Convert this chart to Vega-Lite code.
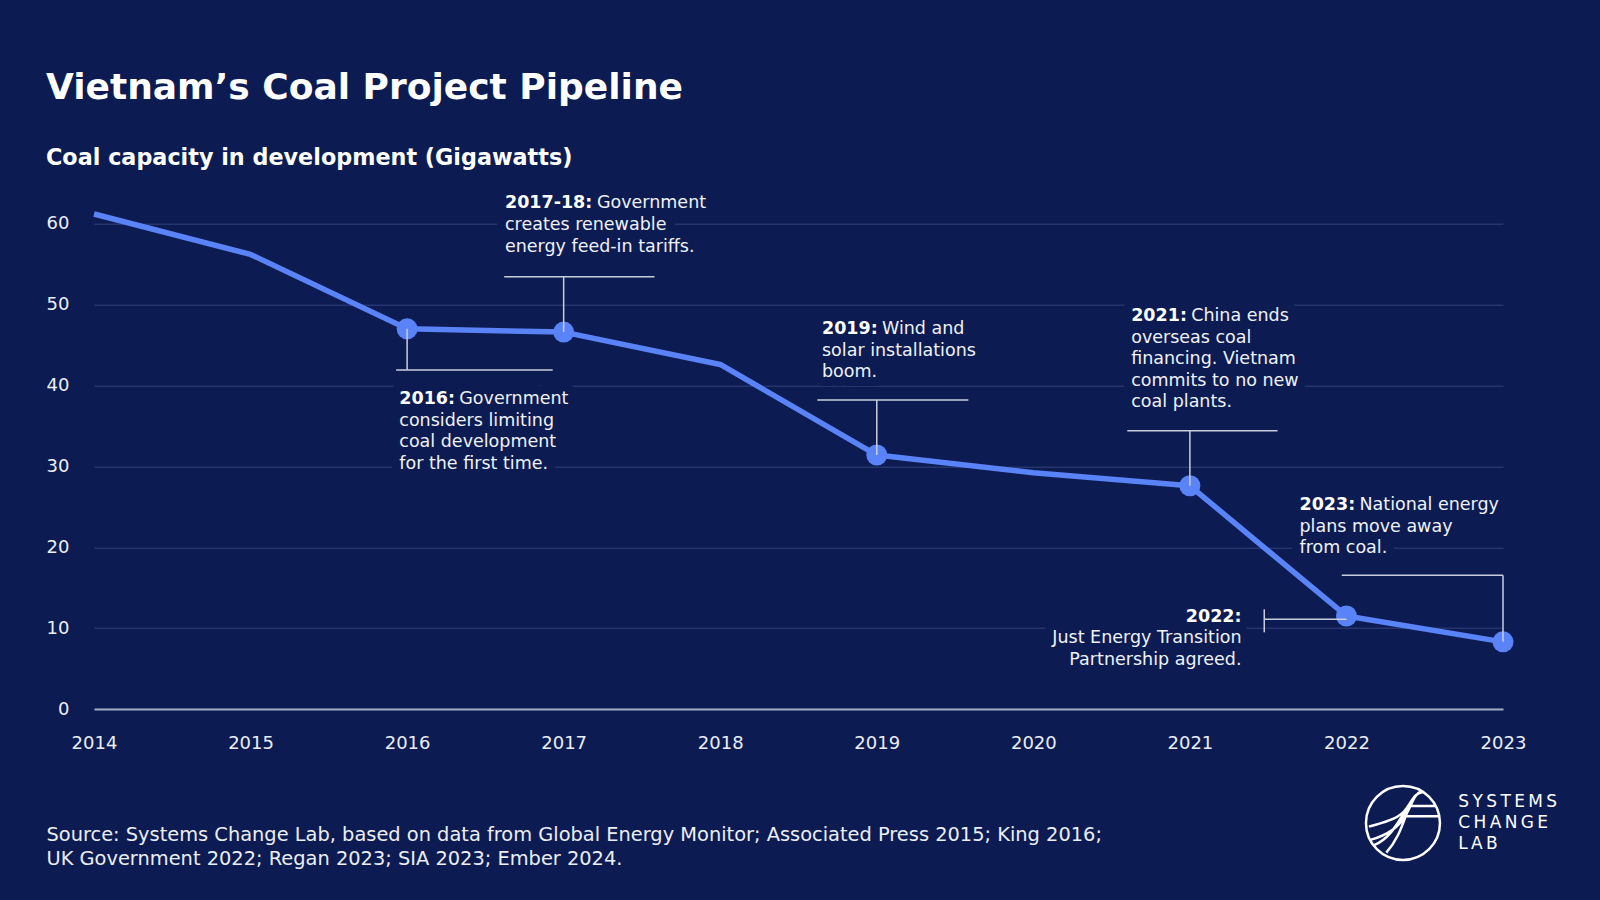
{
  "$schema": "https://vega.github.io/schema/vega-lite/v6.json",
  "width": 1409,
  "height": 485.3,
  "autosize": {"type": "none"},
  "padding": {"left": 94, "top": 223.7, "right": 97, "bottom": 191},
  "background": "#0c1c52",
  "config": {"view": {"stroke": null}, "font": "DejaVu Sans"},
  "title": {
    "text": "Vietnam’s Coal Project Pipeline",
    "subtitle": "Coal capacity in development (Gigawatts)",
    "anchor": "start",
    "frame": "group",
    "dx": -48,
    "offset": 24.5,
    "font": "DejaVu Sans",
    "fontSize": 36,
    "fontWeight": "bold",
    "color": "#ffffff",
    "subtitleFont": "DejaVu Sans",
    "subtitleFontSize": 22.3,
    "subtitleFontWeight": "bold",
    "subtitleColor": "#ffffff",
    "subtitlePadding": 40
  },
  "datasets": {
    "coal": [
      {"year": 2014, "gw": 61.2, "event": false},
      {"year": 2015, "gw": 56.2, "event": false},
      {"year": 2016, "gw": 47.0, "event": true},
      {"year": 2017, "gw": 46.6, "event": true},
      {"year": 2018, "gw": 42.6, "event": false},
      {"year": 2019, "gw": 31.4, "event": true},
      {"year": 2020, "gw": 29.2, "event": false},
      {"year": 2021, "gw": 27.6, "event": true},
      {"year": 2022, "gw": 11.5, "event": true},
      {"year": 2023, "gw": 8.3, "event": true}
    ],
    "notes": [
      {"id": "2017-18", "year": 2016.625, "gw": 61.9, "head": "2017-18:", "first": "Government", "rest": ["creates renewable", "energy feed-in tariffs."]},
      {"id": "2016", "year": 2015.95, "gw": 37.71, "head": "2016:", "first": "Government", "rest": ["considers limiting", "coal development", "for the first time."]},
      {"id": "2019", "year": 2018.65, "gw": 46.33, "head": "2019:", "first": "Wind and", "rest": ["solar installations", "boom."]},
      {"id": "2021", "year": 2020.625, "gw": 47.97, "head": "2021:", "first": "China ends", "rest": ["overseas coal", "financing. Vietnam", "commits to no new", "coal plants."]},
      {"id": "2023", "year": 2021.70, "gw": 24.6, "head": "2023:", "first": "National energy", "rest": ["plans move away", "from coal."]},
      {"id": "2022", "year": 2021.33, "gw": 10.79, "head": "2022:", "first": "", "rest": ["Just Energy Transition", "Partnership agreed."]}
    ],
    "hlinks": [
      {"id": "2016", "year": 2015.93, "year2": 2016.93, "gw": 41.91},
      {"id": "2017-18", "year": 2016.62, "year2": 2017.58, "gw": 53.45},
      {"id": "2019", "year": 2018.62, "year2": 2019.585, "gw": 38.2},
      {"id": "2021", "year": 2020.6, "year2": 2021.56, "gw": 34.41},
      {"id": "2022", "year": 2021.475, "year2": 2022, "gw": 11.09},
      {"id": "2023", "year": 2021.97, "year2": 2023, "gw": 16.53}
    ],
    "vlinks": [
      {"id": "2016", "year": 2016, "gw": 47.0, "gw2": 41.91},
      {"id": "2017-18", "year": 2017, "gw": 46.6, "gw2": 53.45},
      {"id": "2019", "year": 2019, "gw": 31.4, "gw2": 38.2},
      {"id": "2021", "year": 2021, "gw": 27.6, "gw2": 34.41},
      {"id": "2022", "year": 2021.475, "gw": 12.33, "gw2": 9.48},
      {"id": "2023", "year": 2023, "gw": 8.3, "gw2": 16.53}
    ],
    "brand": [
      {"year": 2022.361, "gw": -14.09}
    ],
    "brandtext": [
      {"year": 2022.714, "gw": -12.08, "label": ["S\u2009Y\u2009S\u2009T\u2009E\u2009M\u2009S", "C\u2009H\u2009A\u2009N\u2009G\u2009E", "L\u2009A\u2009B"]}
    ]
  },
  "encoding": {
    "x": {
      "field": "year",
      "type": "quantitative",
      "scale": {"domain": [2014, 2023], "nice": false, "zero": false},
      "axis": {
        "values": [2014, 2015, 2016, 2017, 2018, 2019, 2020, 2021, 2022, 2023],
        "format": "d",
        "grid": false,
        "ticks": false,
        "domain": true,
        "domainColor": "#a3a9c2",
        "domainWidth": 2,
        "labelFont": "DejaVu Sans",
        "labelFontSize": 18,
        "labelColor": "#eceef5",
        "labelPadding": 25,
        "labelFlush": false,
        "labelOverlap": false,
        "title": ["Source: Systems Change Lab, based on data from Global Energy Monitor; Associated Press 2015; King 2016;", "UK Government 2022; Regan 2023; SIA 2023; Ember 2024."],
        "titleFont": "DejaVu Sans",
        "titleFontSize": 19.4,
        "titleFontWeight": "normal",
        "titleColor": "#eceef5",
        "titleAnchor": "start",
        "titleAlign": "left",
        "titleBaseline": "alphabetic",
        "titleLineHeight": 23.5,
        "titleX": -48,
        "titleY": 131.7
      }
    },
    "y": {
      "field": "gw",
      "type": "quantitative",
      "scale": {"domain": [0, 60], "nice": false},
      "axis": {
        "values": [0, 10, 20, 30, 40, 50, 60],
        "grid": true,
        "gridColor": "#34437a",
        "gridWidth": 1,
        "ticks": false,
        "domain": false,
        "labelFont": "DejaVu Sans",
        "labelFontSize": 18,
        "labelColor": "#eceef5",
        "labelPadding": 25,
        "title": null
      }
    }
  },
  "layer": [
    {
      "data": {"name": "notes"},
      "transform": [{"filter": "datum.id !== '2022'"}],
      "mark": {"type": "text", "align": "left", "baseline": "alphabetic", "fontSize": 17.5, "fontWeight": "bold", "color": "#0c1c52", "stroke": "#0c1c52", "strokeWidth": 18, "strokeJoin": "round"},
      "encoding": {"text": {"field": "head"}}
    },
    {
      "data": {"name": "notes"},
      "transform": [{"filter": "datum.id !== '2022' && datum.id !== '2017-18'"}],
      "mark": {"type": "text", "align": "left", "baseline": "alphabetic", "fontSize": 17.5, "dx": 60, "color": "#0c1c52", "stroke": "#0c1c52", "strokeWidth": 18, "strokeJoin": "round"},
      "encoding": {"text": {"field": "first"}}
    },
    {
      "data": {"name": "notes"},
      "transform": [{"filter": "datum.id === '2017-18'"}],
      "mark": {"type": "text", "align": "left", "baseline": "alphabetic", "fontSize": 17.5, "dx": 92, "color": "#0c1c52", "stroke": "#0c1c52", "strokeWidth": 18, "strokeJoin": "round"},
      "encoding": {"text": {"field": "first"}}
    },
    {
      "data": {"name": "notes"},
      "transform": [{"filter": "datum.id !== '2022'"}],
      "mark": {"type": "text", "align": "left", "baseline": "alphabetic", "fontSize": 17.5, "dy": 21.6, "lineHeight": 21.6, "color": "#0c1c52", "stroke": "#0c1c52", "strokeWidth": 18, "strokeJoin": "round"},
      "encoding": {"text": {"field": "rest"}}
    },
    {
      "data": {"name": "notes"},
      "transform": [{"filter": "datum.id === '2022'"}],
      "mark": {"type": "text", "align": "right", "baseline": "alphabetic", "fontSize": 17.5, "fontWeight": "bold", "color": "#0c1c52", "stroke": "#0c1c52", "strokeWidth": 18, "strokeJoin": "round"},
      "encoding": {"text": {"field": "head"}}
    },
    {
      "data": {"name": "notes"},
      "transform": [{"filter": "datum.id === '2022'"}],
      "mark": {"type": "text", "align": "right", "baseline": "alphabetic", "fontSize": 17.5, "dy": 21.6, "lineHeight": 21.6, "color": "#0c1c52", "stroke": "#0c1c52", "strokeWidth": 18, "strokeJoin": "round"},
      "encoding": {"text": {"field": "rest"}}
    },
    {
      "data": {"name": "coal"},
      "mark": {"type": "line", "color": "#5b83f8", "strokeWidth": 5.5, "strokeJoin": "round"},
      "encoding": {}
    },
    {
      "data": {"name": "coal"},
      "transform": [{"filter": "datum.event"}],
      "mark": {"type": "circle", "size": 441, "color": "#5b83f8", "opacity": 1},
      "encoding": {}
    },
    {
      "data": {"name": "hlinks"},
      "mark": {"type": "rule", "color": "#c9cddb", "strokeWidth": 1.5},
      "encoding": {"x2": {"field": "year2"}}
    },
    {
      "data": {"name": "vlinks"},
      "mark": {"type": "rule", "color": "#c9cddb", "strokeWidth": 1.5},
      "encoding": {"y2": {"field": "gw2"}}
    },
    {
      "data": {"name": "notes"},
      "transform": [{"filter": "datum.id !== '2022'"}],
      "mark": {"type": "text", "align": "left", "baseline": "alphabetic", "fontSize": 17.5, "fontWeight": "bold", "color": "#ffffff"},
      "encoding": {"text": {"field": "head"}}
    },
    {
      "data": {"name": "notes"},
      "transform": [{"filter": "datum.id !== '2022' && datum.id !== '2017-18'"}],
      "mark": {"type": "text", "align": "left", "baseline": "alphabetic", "fontSize": 17.5, "dx": 60, "color": "#f0f2f8"},
      "encoding": {"text": {"field": "first"}}
    },
    {
      "data": {"name": "notes"},
      "transform": [{"filter": "datum.id === '2017-18'"}],
      "mark": {"type": "text", "align": "left", "baseline": "alphabetic", "fontSize": 17.5, "dx": 92, "color": "#f0f2f8"},
      "encoding": {"text": {"field": "first"}}
    },
    {
      "data": {"name": "notes"},
      "transform": [{"filter": "datum.id !== '2022'"}],
      "mark": {"type": "text", "align": "left", "baseline": "alphabetic", "fontSize": 17.5, "dy": 21.6, "lineHeight": 21.6, "color": "#f0f2f8"},
      "encoding": {"text": {"field": "rest"}}
    },
    {
      "data": {"name": "notes"},
      "transform": [{"filter": "datum.id === '2022'"}],
      "mark": {"type": "text", "align": "right", "baseline": "alphabetic", "fontSize": 17.5, "fontWeight": "bold", "color": "#ffffff"},
      "encoding": {"text": {"field": "head"}}
    },
    {
      "data": {"name": "notes"},
      "transform": [{"filter": "datum.id === '2022'"}],
      "mark": {"type": "text", "align": "right", "baseline": "alphabetic", "fontSize": 17.5, "dy": 21.6, "lineHeight": 21.6, "color": "#f0f2f8"},
      "encoding": {"text": {"field": "rest"}}
    },
    {
      "data": {"name": "brand"},
      "mark": {
        "type": "point",
        "shape": "M1,0A1,1 0 1,1 -1,0A1,1 0 1,1 1,0Z M0.2,-0.46L0.89,-0.46 M0.1,-0.18L0.98,-0.18 M-0.92,0.1C-0.5,-0.02 -0.1,-0.1 0.1,-0.4S0.35,-0.82 0.55,-0.84 M-0.86,0.45C-0.4,0.32 -0.1,0.1 0.08,-0.22S0.3,-0.78 0.5,-0.86 M0.3,-0.68C0.05,-0.3 0.0,0.3 -0.45,0.8 M0.18,-0.5C-0.1,-0.1 -0.3,0.4 -0.78,0.6",
        "size": 5476,
        "filled": false,
        "stroke": "#ffffff",
        "strokeWidth": 2.5,
        "opacity": 1
      },
      "encoding": {}
    },
    {
      "data": {"name": "brandtext"},
      "mark": {"type": "text", "align": "left", "baseline": "alphabetic", "fontSize": 17, "lineHeight": 21.3, "color": "#ffffff"},
      "encoding": {"text": {"field": "label"}}
    }
  ]
}
